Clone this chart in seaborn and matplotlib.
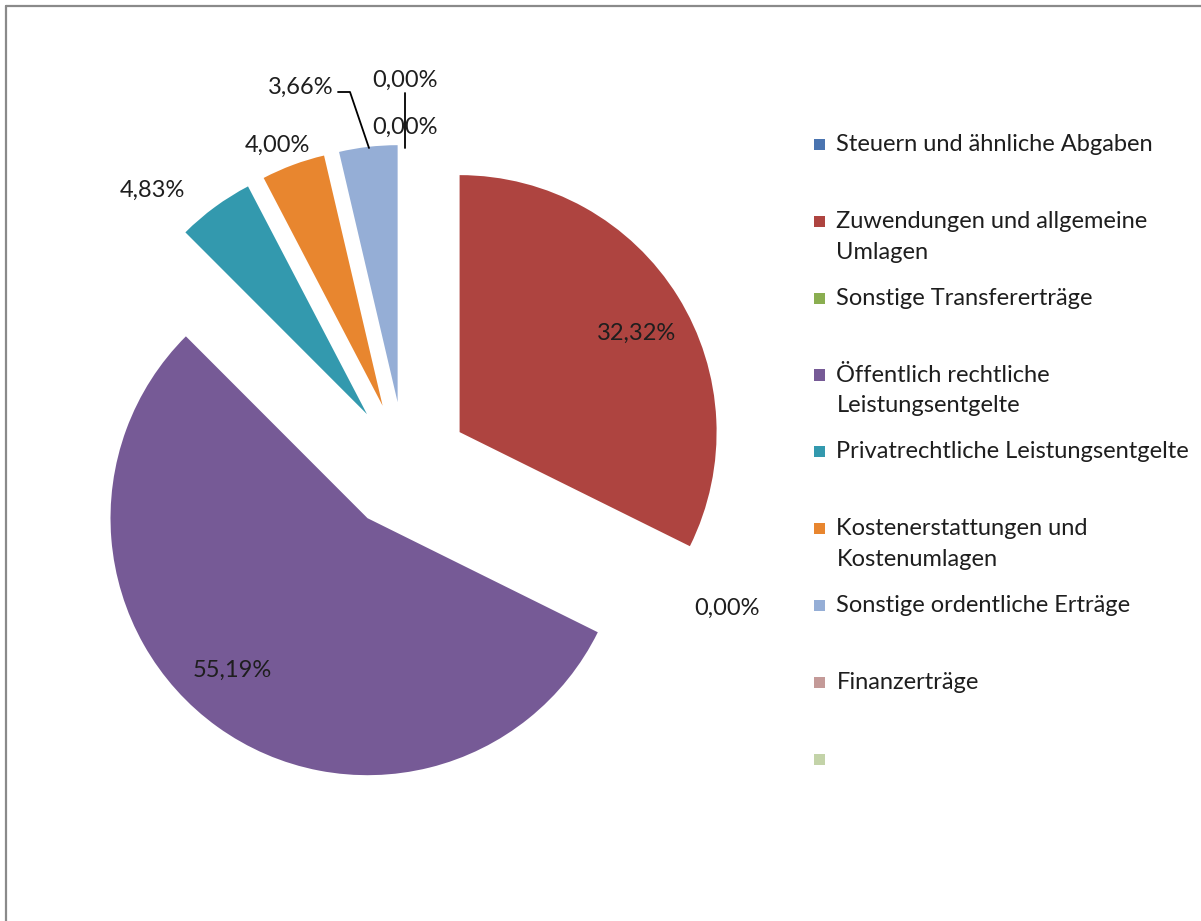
import matplotlib
matplotlib.use("Agg")
import matplotlib.pyplot as plt
import seaborn as sns
import numpy as np
from matplotlib.patches import Patch, Rectangle
from matplotlib.legend_handler import HandlerPatch
from matplotlib.lines import Line2D

# ---- data ----
categories = [
    "Steuern und ähnliche Abgaben",
    "Zuwendungen und allgemeine\nUmlagen",
    "Sonstige Transfererträge",
    "Öffentlich rechtliche\nLeistungsentgelte",
    "Privatrechtliche Leistungsentgelte",
    "Kostenerstattungen und\nKostenumlagen",
    "Sonstige ordentliche Erträge",
    "Finanzerträge",
    "",
]
values = [0.00, 32.32, 0.00, 55.19, 4.83, 4.00, 3.66, 0.00, 0.00]
value_labels = ["0,00%", "32,32%", "0,00%", "55,19%", "4,83%", "4,00%", "3,66%", "0,00%", ""]
colors = ["#4A74B0", "#AE4440", "#8AAE50", "#765A96", "#3399AE",
          "#E8862F", "#95AED6", "#C49A98", "#C3D3A8"]

sns.set_theme(style="white")
plt.rcParams["font.family"] = ["Lato", "DejaVu Sans"]

W, H = 1201, 921
CX, CY, R = 405, 466, 257
fig = plt.figure(figsize=(W / 100, H / 100), dpi=100)
ax = fig.add_axes([0, 0, 1, 1])

palette = sns.color_palette(colors)
wedges, _ = ax.pie(values, colors=palette, explode=[0.25] * len(values),
                   startangle=90, counterclock=False, radius=1,
                   wedgeprops=dict(linewidth=0), normalize=True)
ax.set_xlim(-CX / R, (W - CX) / R)
ax.set_ylim(-(H - CY) / R, CY / R)
ax.set_aspect("equal", adjustable="box")
ax.axis("off")

def px(x, y):
    return ((x - CX) / R, (CY - y) / R)

fs = 17
# label positions (pixel centres)
label_pos = {1: (637, 333), 3: (232, 670), 2: (727, 608), 4: (152, 190),
             5: (277, 145), 6: (301, 87), 0: (405, 127), 7: (405, 80)}
for i, (x, y) in label_pos.items():
    ax.text(*px(x, y), value_labels[i], ha="center", va="center",
            fontsize=fs, color="#1e1e1e")

# leader lines
lx, ly = zip(*[px(338, 92), px(350, 92), px(369, 148)])
ax.plot(lx, ly, color="black", lw=1.3)
lx, ly = zip(*[px(405, 93), px(405, 148)])
ax.plot(lx, ly, color="black", lw=1.3)

# legend
def square(legend, orig_handle, xdescent, ydescent, width, height, fontsize):
    s = 8.0
    return Rectangle((-xdescent, -ydescent + 12.6), s, s)

handles = [Patch(facecolor=c, edgecolor="none") for c in colors]
labels = [c if "\n" in c else c + "\n " for c in categories]
leg = fig.legend(handles, labels, loc="upper left",
                 bbox_to_anchor=(814 / W, 1 - 134 / H), frameon=False,
                 fontsize=fs, handlelength=0.6, handleheight=0.6, handletextpad=0.35,
                 labelspacing=1.065, borderpad=0, borderaxespad=0,
                 handler_map={Patch: HandlerPatch(patch_func=square)})
for t in leg.get_texts():
    t.set_linespacing(1.57)
    t.set_color("#1e1e1e")

# frame (top and left edges visible)
fig.add_artist(Line2D([6 / W, 6 / W], [0, 1 - 6 / H], color="#8a8a8a", lw=1.6))
fig.add_artist(Line2D([6 / W, 1], [1 - 6 / H, 1 - 6 / H], color="#8a8a8a", lw=1.6))

fig.savefig("out.png", dpi=100)
